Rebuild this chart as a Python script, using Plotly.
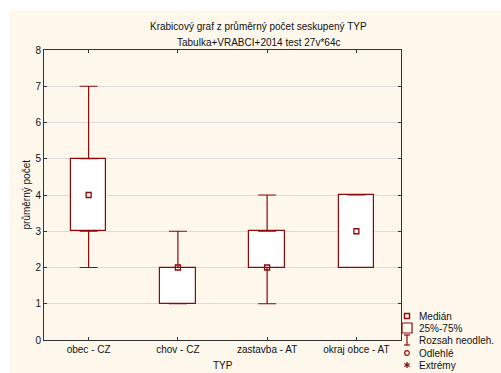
import plotly.graph_objects as go

# Box-plot statistics per group
categories = ["obec - CZ", "chov - CZ", "zastavba - AT", "okraj obce - AT"]
medians = [4, 2, 2, 3]
q1 = [3, 1, 2, 2]
q3 = [5, 2, 3, 4]
whisker_low = [2, 1, 1, 2]
whisker_high = [7, 3, 4, 4]
y_ticks = [0, 1, 2, 3, 4, 5, 6, 7, 8]

legend_labels = ["Medián", "25%-75%", "Rozsah neodleh.", "Odlehlé", "Extrémy"]

RED = "#8c0a0a"
FONT = "Liberation Sans, Arial, sans-serif"
W_FIG, H_FIG = 501, 373
L, R, T, B = 44, 100, 50, 33
PW, PH = W_FIG - L - R, H_FIG - T - B


def px(x):
    return (x - L) / PW


def py(y):
    return 1 - (y - T) / PH


def pline(x0, y0, x1, y1, width=1.2):
    return dict(type="line", xref="paper", yref="paper",
                x0=px(x0), x1=px(x1), y0=py(y0), y1=py(y1),
                line=dict(color=RED, width=width))


xs = list(range(len(categories)))

fig = go.Figure()

# interquartile boxes
fig.add_trace(go.Bar(
    x=xs, y=[b - a for a, b in zip(q1, q3)], base=q1, width=0.4,
    marker=dict(color="white", line=dict(color=RED, width=1.2)),
    hoverinfo="skip", showlegend=False,
))

# upper whiskers
fig.add_trace(go.Scatter(
    x=xs, y=q3, mode="markers", marker=dict(size=1, color="rgba(0,0,0,0)"),
    error_y=dict(type="data", symmetric=False,
                 array=[h - b for h, b in zip(whisker_high, q3)],
                 arrayminus=[0] * len(xs), color=RED, thickness=1.2, width=9),
    hoverinfo="skip", showlegend=False,
))
# lower whiskers
fig.add_trace(go.Scatter(
    x=xs, y=q1, mode="markers", marker=dict(size=1, color="rgba(0,0,0,0)"),
    error_y=dict(type="data", symmetric=False,
                 array=[0] * len(xs),
                 arrayminus=[a - lo for a, lo in zip(q1, whisker_low)],
                 color=RED, thickness=1.2, width=9),
    hoverinfo="skip", showlegend=False,
))

# medians
fig.add_trace(go.Scatter(
    x=xs, y=medians, mode="markers",
    marker=dict(symbol="square-open", size=5, color=RED, line=dict(width=1.3, color=RED)),
    hoverinfo="skip", showlegend=False,
))

shapes = [
    # cream page background with a thin white border on top and left
    dict(type="rect", xref="paper", yref="paper", layer="below",
         x0=px(10), x1=px(W_FIG + 5), y0=py(H_FIG + 5), y1=py(10),
         fillcolor="#fef8ec", line=dict(width=0)),
]

# legend symbols
lx = 407
sy = [316, 328, 340, 353, 365]
shapes.append(dict(type="rect", xref="paper", yref="paper",
                   x0=px(lx - 2.5), x1=px(lx + 2.5), y0=py(sy[0] + 2.5), y1=py(sy[0] - 2.5),
                   line=dict(color=RED, width=1.4)))
shapes.append(dict(type="rect", xref="paper", yref="paper",
                   x0=px(lx - 5), x1=px(lx + 5), y0=py(sy[1] + 5), y1=py(sy[1] - 5),
                   line=dict(color=RED, width=1.2)))
shapes.append(pline(lx, sy[2] - 5, lx, sy[2] + 5))
shapes.append(pline(lx - 3, sy[2] - 5, lx + 3, sy[2] - 5))
shapes.append(pline(lx - 3, sy[2] + 5, lx + 3, sy[2] + 5))
shapes.append(dict(type="circle", xref="paper", yref="paper",
                   x0=px(lx - 2.3), x1=px(lx + 2.3), y0=py(sy[3] + 2.3), y1=py(sy[3] - 2.3),
                   line=dict(color=RED, width=1.2)))
# asterisk
shapes.append(pline(lx, sy[4] - 3, lx, sy[4] + 3, 1.3))
shapes.append(pline(lx - 2.6, sy[4] - 1.5, lx + 2.6, sy[4] + 1.5, 1.3))
shapes.append(pline(lx - 2.6, sy[4] + 1.5, lx + 2.6, sy[4] - 1.5, 1.3))

annotations = [
    dict(text="Krabicový graf z průměrný počet seskupený TYP", x=px(258), y=py(19),
         xref="paper", yref="paper", showarrow=False, font=dict(size=10, color="#111", family=FONT)),
    dict(text="Tabulka+VRABCI+2014 test 27v*64c", x=px(258), y=py(35),
         xref="paper", yref="paper", showarrow=False, font=dict(size=10, color="#111", family=FONT)),
    dict(text="průměrný počet", x=px(18), y=py(195), textangle=-90,
         xref="paper", yref="paper", showarrow=False, font=dict(size=10, color="#111", family=FONT)),
    dict(text="TYP", x=0.5, y=py(373), yanchor="bottom",
         xref="paper", yref="paper", showarrow=False, font=dict(size=10, color="#111", family=FONT)),
]
for lab, yy in zip(legend_labels, sy):
    annotations.append(dict(text=lab, x=px(417), y=py(yy), xanchor="left", yanchor="middle",
                            xref="paper", yref="paper", showarrow=False,
                            font=dict(size=10, color="#111", family=FONT)))

fig.update_layout(
    width=W_FIG, height=H_FIG,
    margin=dict(l=L, r=R, t=T, b=B),
    paper_bgcolor="white", plot_bgcolor="white",
    font=dict(family=FONT, size=10, color="#111"),
    bargap=0, showlegend=False,
    shapes=shapes, annotations=annotations,
    xaxis=dict(range=[-0.5, 3.5], tickvals=xs, ticktext=categories,
               showgrid=False, zeroline=False, showline=True, linecolor="#333", linewidth=1,
               mirror="allticks", ticks="inside", ticklen=3, tickcolor="#333",
               tickfont=dict(size=10, family=FONT), fixedrange=True),
    yaxis=dict(range=[0, 8], tickvals=y_ticks, showgrid=True, gridcolor="#dcdcdc", gridwidth=1.3,
               zeroline=False, showline=True, linecolor="#333", linewidth=1,
               mirror="allticks", ticks="inside", ticklen=3, tickcolor="#333",
               tickfont=dict(size=10, family=FONT), fixedrange=True),
)

fig.write_html("out.html")
